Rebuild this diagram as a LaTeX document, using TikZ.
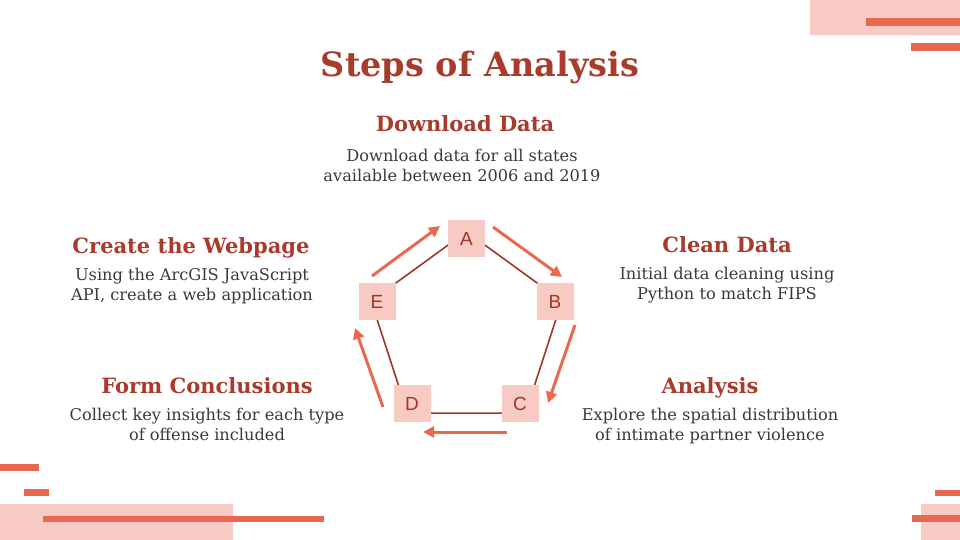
\documentclass[tikz,border=0pt]{standalone}
\usepackage{fontspec}
\setmainfont{DejaVu Serif}
\newfontfamily\boxfont{Liberation Sans}
\usetikzlibrary{arrows.meta}
\definecolor{accent}{HTML}{A83B2B}
\definecolor{coral}{HTML}{E8694F}
\definecolor{pinkfill}{HTML}{F7CBC3}
\definecolor{linered}{HTML}{A33526}
\definecolor{bodytext}{HTML}{333B3E}
\begin{document}
\begin{tikzpicture}[x=1pt,y=-1pt,
 stepbox/.style={fill=pinkfill, minimum size=37pt, inner sep=0pt, font=\boxfont\fontsize{19}{19}\selectfont, text=linered},
 titletext/.style={font=\bfseries\fontsize{33.5}{36}\selectfont, text=accent, anchor=base},
 heading/.style={font=\bfseries\fontsize{21}{24}\selectfont, text=accent, anchor=base},
 desc/.style={font=\fontsize{16.2}{20}\selectfont, text=bodytext, align=center, anchor=base},
 flow/.style={coral, line width=3pt, -{Triangle[length=11pt,width=11pt]}},
 edgeline/.style={linered, line width=1.6pt},
 bar/.style={fill=coral}, light/.style={fill=pinkfill}]
\useasboundingbox (0,0) rectangle (960,540);
% decorations
\fill[light] (810,0) rectangle (960,35);
\fill[bar] (866,18) rectangle (960,26);
\fill[bar] (911,43) rectangle (960,51);
\fill[bar] (0,464) rectangle (39,471);
\fill[bar] (24,489) rectangle (49,496);
\fill[light] (0,504) rectangle (233,540);
\fill[bar] (43,516) rectangle (324,522);
\fill[bar] (935,490) rectangle (960,496);
\fill[light] (921,504) rectangle (960,540);
\fill[bar] (912,515) rectangle (960,522);
% title and texts
\node[titletext] (title) at (480,77) {Steps of Analysis};
\node[heading] (h1) at (465,132) {Download Data};
\node[desc] (d1) at (462,182) {Download data for all states\\available between 2006 and 2019};
\node[heading] (h2) at (727,252) {Clean Data};
\node[desc] (d2) at (727,299) {Initial data cleaning using\\Python to match FIPS};
\node[heading] (h3) at (710,393) {Analysis};
\node[desc] (d3) at (710,440) {Explore the spatial distribution\\of intimate partner violence};
\node[heading] (h4) at (207,393) {Form Conclusions};
\node[desc] (d4) at (207,440) {Collect key insights for each type\\of offense included};
\node[heading] (h5) at (191,253) {Create the Webpage};
\node[desc] (d5) at (192,300) {Using the ArcGIS JavaScript\\API, create a web application};
% pentagon
\coordinate (pA) at (466.5,231.7);
\coordinate (pB) at (561.9,301);
\coordinate (pC) at (525.5,413.1);
\coordinate (pD) at (407.5,413.1);
\coordinate (pE) at (371.1,301);
\draw[edgeline] (pA) -- (pB) -- (pC) -- (pD) -- (pE) -- cycle;
% boxes
\node[stepbox] (A) at (466.5,238.5) {A};
\node[stepbox] (B) at (555,301.5) {B};
\node[stepbox] (C) at (520,403.5) {C};
\node[stepbox] (D) at (412,403.5) {D};
\node[stepbox] (E) at (377,301.5) {E};
% arrows
\coordinate (a1s) at (493,227); \coordinate (a1e) at (562,277);
\coordinate (a2s) at (575,325); \coordinate (a2e) at (548,403);
\coordinate (a3s) at (507,432); \coordinate (a3e) at (423,432);
\coordinate (a4s) at (383,407); \coordinate (a4e) at (355,328);
\coordinate (a5s) at (372,276); \coordinate (a5e) at (440,226);
\draw[flow] (a1s) -- (a1e);
\draw[flow] (a2s) -- (a2e);
\draw[flow] (a3s) -- (a3e);
\draw[flow] (a4s) -- (a4e);
\draw[flow] (a5s) -- (a5e);
\end{tikzpicture}
\end{document}
